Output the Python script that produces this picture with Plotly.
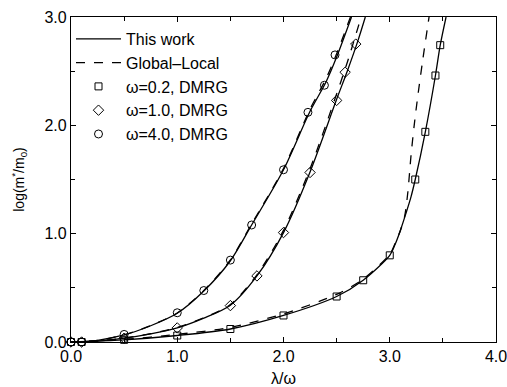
import plotly.graph_objects as go

# ---- data ----
# omega = 4.0 : This work (solid) and Global-Local (dashed)
tw4_x = [0.0, 0.1, 0.25, 0.5, 0.75, 1.0, 1.25, 1.5, 1.7, 2.0, 2.25, 2.4, 2.5, 2.64]
tw4_y = [0.0, 0.002, 0.015, 0.065, 0.15, 0.265, 0.47, 0.75, 1.08, 1.59, 2.13, 2.40, 2.63, 3.0]
gl4_x = [0.0, 0.1, 0.25, 0.5, 0.75, 1.0, 1.25, 1.5, 1.7, 2.0, 2.25, 2.4, 2.5, 2.63]
gl4_y = [0.0, 0.002, 0.015, 0.066, 0.152, 0.268, 0.475, 0.757, 1.09, 1.60, 2.15, 2.43, 2.66, 3.0]

# omega = 1.0
tw1_x = [0.0, 0.25, 0.5, 0.75, 1.0, 1.25, 1.5, 1.75, 2.0, 2.25, 2.5, 2.6, 2.7, 2.77]
tw1_y = [0.0, 0.008, 0.035, 0.075, 0.13, 0.22, 0.34, 0.61, 1.01, 1.57, 2.24, 2.50, 2.78, 3.0]
gl1_x = [0.0, 0.25, 0.5, 0.75, 1.0, 1.25, 1.5, 1.75, 2.0, 2.25, 2.5, 2.6, 2.7, 2.73]
gl1_y = [0.0, 0.008, 0.036, 0.077, 0.133, 0.224, 0.345, 0.62, 1.03, 1.60, 2.29, 2.58, 2.90, 3.0]

# omega = 0.2
tw02_x = [0.0, 0.5, 1.0, 1.5, 2.0, 2.5, 2.75, 3.0, 3.05, 3.1, 3.15, 3.2, 3.24, 3.335, 3.43, 3.475, 3.53]
tw02_y = [0.0, 0.02, 0.06, 0.12, 0.245, 0.42, 0.57, 0.80, 0.90, 1.03, 1.18, 1.34, 1.50, 1.94, 2.46, 2.74, 3.0]
gl02_x = [0.0, 0.5, 1.0, 1.5, 2.0, 2.5, 2.75, 3.0, 3.05, 3.1, 3.14, 3.17, 3.2, 3.23, 3.26, 3.31, 3.37]
gl02_y = [0.0, 0.025, 0.07, 0.135, 0.26, 0.44, 0.58, 0.81, 0.91, 1.03, 1.16, 1.38, 1.72, 2.0, 2.24, 2.6, 3.0]

# DMRG points
sq_x = [0.0, 0.1, 0.5, 1.0, 1.5, 2.0, 2.5, 2.75, 3.0, 3.24, 3.335, 3.43, 3.475]
sq_y = [0.0, 0.0, 0.02, 0.06, 0.12, 0.245, 0.42, 0.57, 0.80, 1.50, 1.94, 2.46, 2.74]
di_x = [0.0, 0.1, 0.5, 1.0, 1.5, 1.75, 2.0, 2.25, 2.5, 2.58, 2.68]
di_y = [0.0, 0.0, 0.035, 0.13, 0.336, 0.61, 1.01, 1.565, 2.23, 2.49, 2.75]
ci_x = [0.0, 0.1, 0.5, 1.0, 1.25, 1.5, 1.7, 2.0, 2.23, 2.385, 2.485]
ci_y = [0.0, 0.0, 0.07, 0.27, 0.475, 0.756, 1.08, 1.59, 2.12, 2.37, 2.65]

x_ticks = [0, 1, 2, 3, 4]
x_tick_labels = ["0.0", "1.0", "2.0", "3.0", "4.0"]
y_ticks = [0, 1, 2, 3]
y_tick_labels = ["0.0", "1.0", "2.0", "3.0"]

FONT = "Liberation Sans, Arial, sans-serif"
LW = 1.3

fig = go.Figure()

curves = [
    (tw02_x, tw02_y, "solid", "This work", True),
    (gl02_x, gl02_y, "dash", "Global\u2013Local", True),
    (tw1_x, tw1_y, "solid", "This work", False),
    (gl1_x, gl1_y, "dash", "Global\u2013Local", False),
    (tw4_x, tw4_y, "solid", "This work", False),
    (gl4_x, gl4_y, "dash", "Global\u2013Local", False),
]
for xs, ys, dash, name, show in curves:
    fig.add_trace(go.Scatter(
        x=xs, y=ys, mode="lines", name=name, showlegend=show,
        line=dict(color="black", width=LW, dash=dash, shape="spline", smoothing=0.8),
    ))

markers = [
    (sq_x, sq_y, "square-open", 7, "\u03c9=0.2, DMRG"),
    (di_x, di_y, "diamond-open", 8, "\u03c9=1.0, DMRG"),
    (ci_x, ci_y, "circle-open", 8, "\u03c9=4.0, DMRG"),
]
for xs, ys, sym, sz, name in markers:
    fig.add_trace(go.Scatter(
        x=xs, y=ys, mode="markers", name=name, cliponaxis=False,
        marker=dict(symbol=sym, size=sz, color="black", line=dict(color="black", width=1)),
    ))

axis_common = dict(
    showgrid=False, zeroline=False, showline=True, linecolor="black", linewidth=1.2,
    mirror="ticks", ticks="inside", ticklen=5, tickcolor="black", tickwidth=1,
    tickfont=dict(family=FONT, size=16, color="black"),
    minor=dict(dtick=0.5, ticks="inside", ticklen=4, tickcolor="black", tickwidth=1),
    automargin=False, ticklabeloverflow="allow",
)

fig.update_xaxes(
    range=[0, 4], tickmode="array", tickvals=x_ticks, ticktext=x_tick_labels,
    title=dict(text="\u03bb/\u03c9", font=dict(family=FONT, size=16, color="black"), standoff=9),
    **axis_common,
)
fig.update_yaxes(
    range=[0, 3], tickmode="array", tickvals=y_ticks, ticktext=y_tick_labels,
    title=dict(text="log(m<sup>*</sup>/m<sub>0</sub>)", font=dict(family=FONT, size=14, color="black"), standoff=16),
    **axis_common,
)

fig.update_layout(
    width=507, height=387,
    margin=dict(l=71, r=11, t=17, b=45, autoexpand=False),
    plot_bgcolor="white", paper_bgcolor="white",
    font=dict(family=FONT, size=16, color="black"),
    legend=dict(
        x=0.0, y=0.985, xanchor="left", yanchor="top",
        bgcolor="rgba(0,0,0,0)", borderwidth=0,
        font=dict(family=FONT, size=16, color="black"),
        tracegroupgap=0, itemwidth=45,
    ),
)

fig.write_html("out.html")
